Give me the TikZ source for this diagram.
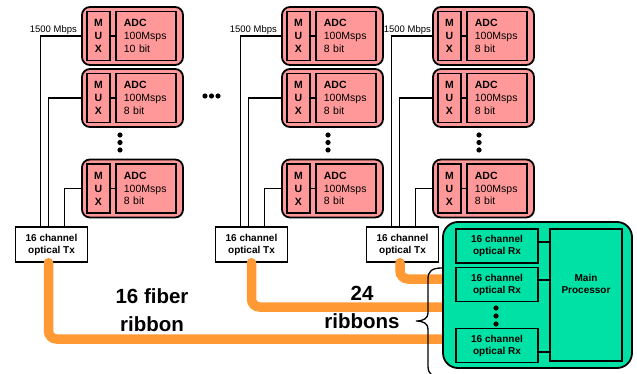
\documentclass[tikz,border=0pt]{standalone}
\usepackage{fontspec}
\setmainfont{Liberation Sans}
\usepackage{tikz}
\pgfdeclarelayer{front}
\pgfsetlayers{main,front}
\definecolor{adcpink}{RGB}{255,153,153}
\definecolor{rxgreen}{RGB}{0,225,165}
\definecolor{fiberorange}{RGB}{255,153,51}

\begin{document}
\begin{tikzpicture}[x=1pt, y=-1pt,
  every node/.style={align=center, inner sep=0pt},
  modulebox/.style={draw, line width=1.8pt, rounded corners=8pt, fill=adcpink, minimum width=101pt, minimum height=58pt},
  muxbox/.style={draw, line width=1.6pt, fill=adcpink, minimum width=23pt, minimum height=49pt, font=\bfseries\fontsize{10.5}{13}\selectfont},
  adcbox/.style={draw, line width=1.6pt, fill=adcpink, text width=44pt, inner xsep=8pt, minimum height=49pt, align=left, font=\fontsize{10.5}{12.6}\selectfont},
  txbox/.style={draw, line width=1.4pt, fill=white, minimum width=72pt, minimum height=35pt, font=\bfseries\fontsize{10}{12}\selectfont},
  rxbox/.style={draw, line width=1.8pt, fill=rxgreen, minimum width=82pt, minimum height=34pt, font=\bfseries\fontsize{10}{12}\selectfont},
  procbox/.style={draw, line width=1.8pt, fill=rxgreen, rounded corners=15pt, minimum width=189pt, minimum height=146pt},
  mainbox/.style={draw, line width=1.8pt, minimum width=72pt, minimum height=132pt},
  boldtext/.style={font=\bfseries\fontsize{10}{12}\selectfont},
  ratetext/.style={font=\fontsize{9.5}{11}\selectfont},
  bigtext/.style={font=\bfseries\fontsize{20.5}{28}\selectfont},
  wire/.style={line width=1.3pt},
  fiber/.style={line width=9.5pt, fiberorange, line cap=round, rounded corners=8pt},
  bracket/.style={line width=1.3pt},
  dotmark/.style={fill=black}]

\useasboundingbox (0,0) rectangle (637,374);

% ADC modules: name / left edge / centre / resolution
\foreach \m/\mx/\my/\bits in {A1/82/36/10, A2/82/98/8, A3/82/188.5/8,
                              B1/282/36/8, B2/282/98/8, B3/282/188.5/8,
                              C1/433/36/8, C2/433/98/8, C3/433/188.5/8} {
  \node[modulebox] (module\m) at (\mx+50.5,\my) {};
  \node[muxbox, anchor=north west] (mux\m) at ([shift={(5,4.5)}]module\m.north west) {M\\U\\X};
  \node[adcbox, anchor=north west] (adc\m) at ([shift={(34,4.5)}]module\m.north west) {\textbf{ADC}\\100Msps\\\bits{} bit};
  \draw[wire] (mux\m.east) -- (adc\m.west);
}

% Transmitters and the links from the modules
\foreach \c/\mx/\gap in {A/82/4, B/282/4, C/433/1} {
  \node[txbox] (opticalTx\c) at (\mx-30.5,244.5) {16 channel\\optical Tx};
  \node[ratetext, anchor=south east] (rate\c) at ([shift={(-\gap,-1.5)}]module\c1.west) {1500 Mbps};
  \draw[wire] (module\c1.west) -| ([xshift=-11pt]opticalTx\c.north);
  \draw[wire] (module\c2.west) -| ([xshift=-3pt]opticalTx\c.north);
  \draw[wire] (module\c3.west) -| ([xshift=13pt]opticalTx\c.north);
}

% Continuation dots
\foreach \x/\y in {205/96, 211.5/96, 218/96,
                   120/135, 120/142.5, 120/150,
                   328/135, 328/142.5, 328/150,
                   479/135, 479/142.5, 479/150}
  \fill[dotmark] (\x,\y) circle (2.6pt);

% Receiver board
\begin{pgfonlayer}{front}
  \node[procbox] (processorBoard) at (537.5,295) {};
  \node[rxbox] (opticalRxA) at (497,246) {16 channel\\optical Rx};
  \node[rxbox] (opticalRxB) at (497,284.5) {16 channel\\optical Rx};
  \node[rxbox] (opticalRxC) at (497,345.5) {16 channel\\optical Rx};
  \node[mainbox] (mainProcessor) at (586,295) {};
  \node[boldtext] (mainLabel) at ([yshift=11pt]mainProcessor.center) {Main\\Processor};
  \draw[wire] ([yshift=4pt]opticalRxA.east) -- ([yshift=4pt]mainProcessor.west |- opticalRxA.east);
  \draw[wire] ([yshift=4.5pt]opticalRxB.east) -- ([yshift=4.5pt]mainProcessor.west |- opticalRxB.east);
  \draw[wire] ([yshift=-6.5pt]opticalRxC.east) -- ([yshift=-6.5pt]mainProcessor.west |- opticalRxC.east);
  \foreach \y in {308, 316, 324}
    \fill[dotmark] (496,\y) circle (2.6pt);
\end{pgfonlayer}

% Fiber ribbons to the receiver board
\draw[fiber] ([xshift=-3pt]opticalTxA.south) |- ([yshift=-44pt]processorBoard.west);
\draw[fiber] (opticalTxB.south) |- ([yshift=-12pt]processorBoard.west);
\draw[fiber] ([xshift=-2.5pt]opticalTxC.south) |- ([yshift=16pt]processorBoard.west);

% Brace and labels
\draw[bracket] (442,268) .. controls (432,268) and (428,271) .. (428,279) -- (428,313)
  .. controls (428,318) and (424,321) .. (416,321)
  .. controls (424,321) and (428,324) .. (428,329) -- (428,366)
  .. controls (428,374) and (432,377) .. (442,377);
\node[bigtext] (fiberLabel) at (152,310.5) {16 fiber\\ribbon};
\node[bigtext] (ribbonCount) at (362,307.5) {24\\ribbons};

\end{tikzpicture}
\end{document}
